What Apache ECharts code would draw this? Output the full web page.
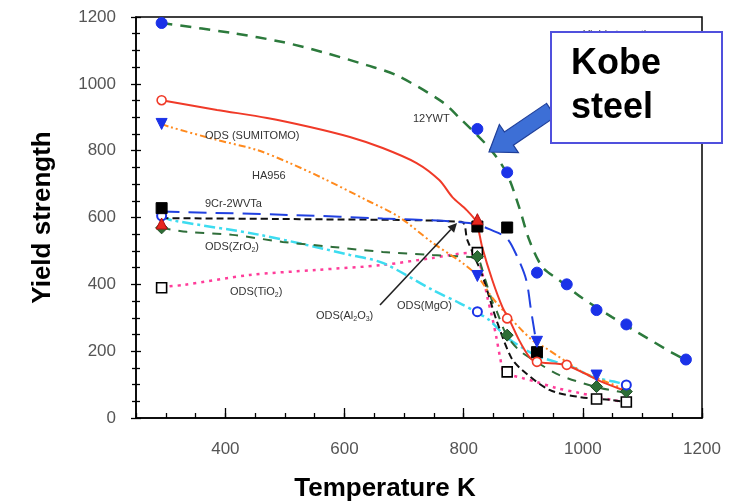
<!DOCTYPE html>
<html><head><meta charset="utf-8">
<script src="https://cdn.jsdelivr.net/npm/echarts@6/dist/echarts.min.js"></script>
<style>html,body{margin:0;padding:0;background:#fff}#c{width:737px;height:503px}</style>
</head><body><div id="c"></div>
<script>
// ---- axis ticks ----
const xMajorTicks = [400, 600, 800, 1000, 1200];
const yMajorTicks = [0, 200, 400, 600, 800, 1000, 1200];

// ---- 12YWT (fitted curve + measured points) ----
const ywtCurve = [[293,1182],[412,1152],[496,1125],[563,1095],[637,1056],[687,1026],[764,946],[793,898],[843,808],[872,733],[893,631],[910,533],[932,452],[960,413],[999,359],[1049,302],[1094,254],[1150,195],[1173,174]];
const ywtPoints = [[293,1182],[823,865],[873,735],[923,435],[973,400],[1023,323],[1073,280],[1173,175]];

// ---- ODS (SUMITOMO) red solid ----
const sumitomoCurve = [[293,951],[386,922],[470,898],[542,871],[609,841],[664,808],[721,763],[759,712],[781,661],[805,622],[821,587],[831,512],[848,413],[865,332],[877,293],[893,233],[910,183],[922,168],[972,158],[1027,112],[1073,80]];
const sumitomoPoints = [[293,951],[873,298],[923,168],[973,159]];

// ---- MA956 orange dash-dot ----
const ma956Curve = [[293,880],[307,871],[386,832],[453,802],[508,763],[563,718],[637,652],[692,601],[748,524],[798,464],[823,425],[848,360],[871,313],[915,233],[938,209],[999,138],[1023,120],[1073,84]];
const ma956Points = [[293,880],[823,425],[923,228],[1023,127]];

// ---- 9Cr-2WVTa blue long dash ----
const cr9Curve = [[293,618],[520,607],[664,597],[764,590],[800,585],[821,580],[843,565],[872,539],[890,482],[905,413],[913,323],[922,224]];
const cr9Points = [[293,628],[823,573],[873,570],[923,197]];
const redTriPoints = [[293,582],[823,595]];

// ---- ODS(Al2O3) black dashed ----
const al2o3Curve = [[293,598],[525,595],[796,587],[806,533],[831,428],[855,293],[880,180],[898,144],[944,84],[994,63],[1048,54],[1069,48]];

// ---- ODS(TiO2) pink dotted ----
const tio2Curve = [[293,392],[329,398],[441,428],[553,443],[664,458],[748,479],[810,494],[823,480],[833,420],[840,359],[848,300],[855,240],[861,183],[868,138],[898,120],[922,108],[955,90],[994,75],[1049,54],[1073,48]];
const tio2Points = [[293,390],[823,495],[873,138],[1023,57],[1073,48]];

// ---- ODS(ZrO2) green dashed ----
const zro2Curve = [[293,569],[335,557],[412,548],[496,527],[580,512],[664,497],[748,488],[810,482],[823,479],[835,420],[849,344],[856,317],[872,248],[893,203],[922,168],[960,129],[1022,93],[1073,75]];
const zro2Points = [[293,569],[823,483],[873,248],[1023,94],[1073,79]];

// ---- ODS(MgO) cyan dash-dot ----
const mgoCurve = [[293,605],[310,592],[458,548],[609,488],[664,464],[748,383],[793,344],[821,317],[843,293],[872,242],[905,203],[927,183],[982,153],[1016,123],[1052,109],[1073,100]];
const mgoPoints = [[293,605],[823,318],[1073,99]];

const chart = echarts.init(document.getElementById('c'), null, {renderer:'canvas'});

function curve(data, color, width, dash){
  return {type:'line', data:data, symbol:'none', smooth:0.3,
    lineStyle:{color:color, width:width, type:dash, cap:'butt'}, z:2, silent:true, animation:false};
}
function marks(data, symbol, size, fill, stroke, bw, rot){
  return {type:'scatter', data:data, symbol:symbol, symbolSize:size, symbolRotate:rot||0,
    itemStyle:{color:fill, borderColor:stroke, borderWidth:bw, opacity:1}, z:5, silent:true, animation:false};
}

const FONT = 'Liberation Sans, Arial, Helvetica, sans-serif';
const labelStyle = {fontSize:17, color:'#555', fontFamily:FONT, formatter:function(v){return String(v);}};

chart.setOption({
  backgroundColor:'#fff',
  animation:false,
  grid:{left:136, right:35, top:17, bottom:85, containLabel:false, outerBoundsMode:'none',
        show:true, borderColor:'#000', borderWidth:1.5, backgroundColor:'transparent'},
  xAxis:[
    {type:'value', min:250, max:1200, interval:50, position:'bottom',
     axisLine:{show:true, onZero:false, lineStyle:{color:'#000', width:1.5}},
     axisTick:{show:true, inside:true, length:5, lineStyle:{color:'#000', width:1.3}},
     axisLabel:Object.assign({customValues:xMajorTicks, margin:23}, labelStyle),
     splitLine:{show:false},
     name:'Temperature K', nameLocation:'middle', nameGap:58,
     nameTextStyle:{fontSize:26, fontWeight:'bold', color:'#000', fontFamily:FONT, padding:[0,68,0,0]}},
    {type:'value', min:250, max:1200, position:'bottom',
     axisLine:{show:false, onZero:false},
     axisTick:{show:true, inside:true, length:10, customValues:xMajorTicks, lineStyle:{color:'#000', width:1.3}},
     axisLabel:{show:false}, splitLine:{show:false}}
  ],
  yAxis:[
    {type:'value', min:0, max:1200, interval:200, position:'left',
     axisLine:{show:true, onZero:false, lineStyle:{color:'#000', width:1.5}},
     axisTick:{show:true, inside:false, length:5, lineStyle:{color:'#000', width:1.3}},
     minorTick:{show:true, splitNumber:4, length:4, lineStyle:{color:'#000', width:1.3}},
     axisLabel:Object.assign({margin:20}, labelStyle),
     splitLine:{show:false}, minorSplitLine:{show:false},
     name:'Yield strength', nameLocation:'middle', nameGap:80,
     nameTextStyle:{fontSize:26, fontWeight:'bold', color:'#000', fontFamily:FONT}},
    {type:'value', min:0, max:1200, interval:200, position:'left',
     axisLine:{show:false, onZero:false},
     axisTick:{show:true, inside:true, length:5, lineStyle:{color:'#000', width:1.3}},
     minorTick:{show:true, splitNumber:4, length:4, lineStyle:{color:'#000', width:1.3}},
     axisLabel:{show:false}, splitLine:{show:false}, minorSplitLine:{show:false}}
  ],
  series:[
    curve(tio2Curve, '#ff3d9a', 2.5, [3,5]),
    curve(mgoCurve, '#3ddcf0', 2.5, [11,4,3,4]),
    curve(zro2Curve, '#2f6e3a', 2, [9,8]),
    curve(al2o3Curve, '#111', 2, [7,4]),
    curve(cr9Curve, '#2040e0', 2, [18,9]),
    curve(ma956Curve, '#ff8a1e', 2, [7,3,2,3,2,3]),
    curve(sumitomoCurve, '#f03a28', 2, 'solid'),
    curve(ywtCurve, '#2c7a3c', 2.5, [11,8]),
    marks(tio2Points, 'rect', 10, '#fff', '#000', 1.6),
    marks(zro2Points, 'diamond', 12, '#2c6e35', '#1d4d25', 1),
    marks(mgoPoints, 'circle', 9, '#fff', '#1b32e8', 2),
    marks(cr9Points, 'rect', 11, '#000', '#000', 1),
    marks(redTriPoints, 'triangle', 11, '#e8281e', '#b01010', 1),
    marks(ma956Points, 'triangle', 11, '#1b32e8', '#1b32e8', 1, 180),
    marks(sumitomoPoints, 'circle', 9, '#fff', '#f03a28', 1.6),
    marks(ywtPoints, 'circle', 11, '#1b32e8', '#1b32e8', 1)
  ]
});

// ---- annotations ----
const ann = {fill:'#333', font:'11px ' + FONT};
function txt(x, y, t, rich){
  const s = {text:t, fill:ann.fill, font:ann.font, textVerticalAlign:'middle'};
  if (rich) s.rich = rich;
  return {type:'text', x:x, y:y, style:s, z:50, silent:true};
}
const subRich = {a:{fontSize:11, fill:'#333', fontFamily:FONT}, s:{fontSize:7, fill:'#333', fontFamily:FONT, verticalAlign:'bottom', padding:[6,0,0,0]}};

// block arrow (Kobe steel) from box to the 12YWT curve
const tail = [551, 110], tip = [489, 152];
const dx = tip[0]-tail[0], dy = tip[1]-tail[1], L = Math.hypot(dx,dy);
const ux = dx/L, uy = dy/L, nx = -uy, ny = ux;
const hb = [tip[0]-ux*24, tip[1]-uy*24];
const blockArrow = [
  [tail[0]+nx*8, tail[1]+ny*8], [hb[0]+nx*8, hb[1]+ny*8], [hb[0]+nx*17, hb[1]+ny*17],
  tip,
  [hb[0]-nx*17, hb[1]-ny*17], [hb[0]-nx*8, hb[1]-ny*8], [tail[0]-nx*8, tail[1]-ny*8]
];

// thin arrow for ODS(Al2O3)
const a0 = [380, 305], a1 = [457, 223];
const adx = a1[0]-a0[0], ady = a1[1]-a0[1], aL = Math.hypot(adx, ady);
const aux = adx/aL, auy = ady/aL, anx = -auy, any = aux;
const ahb = [a1[0]-aux*9, a1[1]-auy*9];

chart.setOption({graphic:[
  txt(413, 119, '12YWT'),
  txt(205, 136, 'ODS (SUMITOMO)'),
  txt(252, 176, 'HA956'),
  txt(205, 204, '9Cr-2WVTa'),
  txt(205, 247, '{a|ODS(ZrO}{s|2}{a|)}', subRich),
  txt(230, 292, '{a|ODS(TiO}{s|2}{a|)}', subRich),
  txt(316, 316, '{a|ODS(Al}{s|2}{a|O}{s|3}{a|)}', subRich),
  txt(397, 306, 'ODS(MgO)'),
  {type:'polyline', shape:{points:[a0, ahb]}, style:{stroke:'#222', lineWidth:1.6}, z:50, silent:true},
  {type:'polygon', shape:{points:[a1, [ahb[0]+anx*4.5, ahb[1]+any*4.5], [ahb[0]-anx*4.5, ahb[1]-any*4.5]]}, style:{fill:'#222'}, z:50, silent:true},
  {type:'text', x:583, y:29, style:{text:'Yield strength', fill:'#444', font:'11px ' + FONT}, z:60, silent:true},
  {type:'polygon', shape:{points:blockArrow}, style:{fill:'#3d6fd6', stroke:'#1f3f9a', lineWidth:1.2}, z:90, silent:true},
  {type:'rect', shape:{x:551, y:32, width:171, height:111}, style:{fill:'#fff', stroke:'#5050dd', lineWidth:2}, z:100, silent:true},
  {type:'text', x:571, y:42, style:{text:'Kobe\nsteel', fill:'#000', font:'bold 36px ' + FONT, lineHeight:44}, z:101, silent:true}
]});
</script></body></html>
